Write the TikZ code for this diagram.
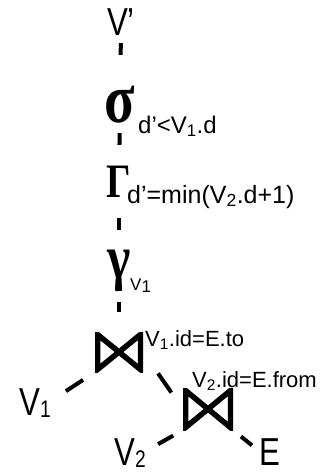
\documentclass[tikz,border=0pt]{standalone}
\usepackage{fontspec}
\setmainfont{Liberation Sans}
\newfontfamily\leaffont{Liberation Sans}[FakeStretch=0.8]
\newfontfamily\greekfont{Liberation Serif}[FakeStretch=0.8]
\tikzset{
  leaf/.style={inner sep=0pt, text depth=0pt, text height=28pt, font=\leaffont\fontsize{39}{39}\selectfont},
  greek/.style={inner sep=0pt, text depth=0pt, font=\greekfont\bfseries\fontsize{#1}{#1}\selectfont},
  cond/.style={inner sep=0pt, anchor=base west, font=\fontsize{#1}{#1}\selectfont},
  link/.style={line width=4pt, line cap=butt},
  bowtie/.style={inner sep=0pt, path picture={
      \draw[line width=5.5pt, line join=miter]
        ([shift={(2.5pt,-2.5pt)}]path picture bounding box.north west) --
        ([shift={(-2.5pt,2.5pt)}]path picture bounding box.south east) --
        ([shift={(-2.5pt,-2.5pt)}]path picture bounding box.north east) --
        ([shift={(2.5pt,2.5pt)}]path picture bounding box.south west) -- cycle;}}
}
\begin{document}
\begin{tikzpicture}[x=1pt, y=-1pt, line join=round]
  \useasboundingbox (0,0) rectangle (331,475);
  \node[leaf, anchor=base] (vp) at (121,35) {V’};
  \node[greek=70, anchor=base, text height=34pt] (sel) at (120,122) {σ};
  \node[cond=24] (sellabel) at (138,133) {d’<V\textsubscript{1}.d};
  \node[greek=48, anchor=base, text height=32pt] (agg) at (119,197) {Γ};
  \node[cond=25] (agglabel) at (127,203) {d’=min(V\textsubscript{2}.d+1)};
  \node[greek=62, anchor=base, text height=31pt, text depth=14pt] (grp) at (119,278) {γ};
  \node[cond=17] (grplabel) at (130,290) {V\raisebox{-2pt}{\fontsize{17}{17}\selectfont 1}};
  \node[bowtie, minimum width=48pt, minimum height=40pt] (join1) at (119,352) {};
  \node[cond=22] (join1label) at (145,346) {V\textsubscript{1}.id=E.to};
  \node[bowtie, minimum width=50pt, minimum height=42pt] (join2) at (208,409) {};
  \node[cond=22] (join2label) at (192,387) {V\textsubscript{2}.id=E.from};
  \node[leaf, anchor=base west] (v1) at (19,415) {V\raisebox{-2pt}{\fontsize{24}{24}\selectfont 1}};
  \node[leaf, anchor=base west] (v2) at (114,465) {V\raisebox{-2pt}{\fontsize{24}{24}\selectfont 2}};
  \node[leaf, anchor=base west] (e) at (259,465) {E};
  \draw[link, shorten <=8pt, shorten >=33pt] (vp.south) -- (sel.north);
  \draw[link, shorten <=11pt, shorten >=20pt] (sel.south) -- (agg.north);
  \draw[link, shorten <=21pt, shorten >=17pt] (agg.south) -- (grp.north);
  \draw[link, shorten <=10pt, shorten >=20pt] (grp.south) -- (join1.north);
  \draw[link, shorten <=14pt, shorten >=18pt] (join1.south west) -- (v1.east);
  \draw[link, shorten <=26pt, shorten >=20pt] (join1.east) -- (join2.west);
  \draw[link, shorten <=11pt, shorten >=14pt] (join2.south west) -- (v2.east);
  \draw[link, shorten <=10pt, shorten >=9pt] (join2.south east) -- (e.west);
\end{tikzpicture}
\end{document}
